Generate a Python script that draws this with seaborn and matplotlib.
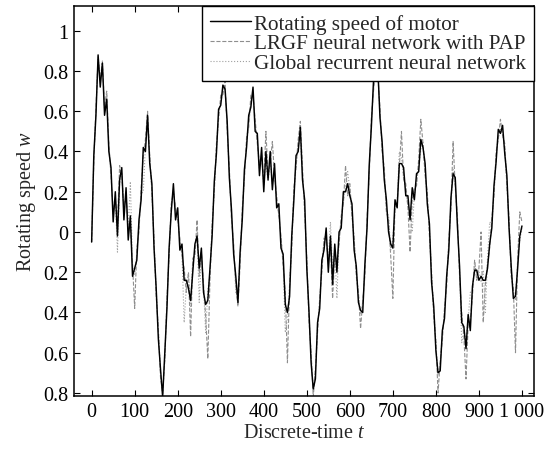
import numpy as np
import pandas as pd
import matplotlib
matplotlib.use("Agg")
import matplotlib.pyplot as plt
import seaborn as sns

# all three series read every 5 steps of discrete time
t_vals = list(range(0, 1001, 5))

speed = [
    -0.05, 0.38, 0.58, 0.88, 0.72, 0.84, 0.58, 0.66, 0.40, 0.32, 0.05, 0.20, -0.02, 0.26, 0.32, 0.06, 0.22, -0.04, 0.08, -0.22,
    -0.18, -0.14, 0.06, 0.16, 0.42, 0.40, 0.58, 0.34, 0.24, -0.08, -0.28, -0.53, -0.68, -0.82, -0.60, -0.38, -0.08, 0.10, 0.24, 0.06,
    0.12, -0.09, -0.06, -0.24, -0.24, -0.28, -0.34, -0.20, -0.06, -0.02, -0.18, -0.08, -0.30, -0.36, -0.34, -0.18, -0.02, 0.25, 0.39, 0.61,
    0.63, 0.73, 0.71, 0.55, 0.27, 0.11, -0.11, -0.22, -0.35, -0.10, 0.06, 0.31, 0.42, 0.58, 0.62, 0.72, 0.50, 0.49, 0.28, 0.42,
    0.20, 0.40, 0.26, 0.40, 0.21, 0.34, 0.12, 0.14, -0.08, -0.11, -0.36, -0.40, -0.32, -0.02, 0.16, 0.38, 0.40, 0.52, 0.26, 0.16,
    -0.18, -0.39, -0.65, -0.78, -0.73, -0.45, -0.38, -0.14, -0.09, 0.02, -0.20, -0.02, -0.26, -0.06, -0.20, 0.00, 0.02, 0.20, 0.20, 0.24,
    0.18, 0.14, -0.09, -0.17, -0.35, -0.39, -0.40, -0.16, 0.02, 0.33, 0.52, 0.75, 0.78, 0.82, 0.57, 0.45, 0.26, 0.16, 0.00, -0.06,
    -0.08, 0.16, 0.12, 0.34, 0.34, 0.32, 0.18, 0.18, 0.06, 0.22, 0.16, 0.29, 0.30, 0.46, 0.42, 0.34, 0.14, 0.04, -0.25, -0.37,
    -0.59, -0.70, -0.69, -0.49, -0.43, -0.22, -0.09, 0.17, 0.29, 0.27, 0.03, -0.17, -0.45, -0.47, -0.58, -0.41, -0.49, -0.27, -0.19, -0.19,
    -0.24, -0.22, -0.24, -0.24, -0.18, -0.06, 0.02, 0.23, 0.35, 0.51, 0.49, 0.53, 0.39, 0.28, 0.02, -0.17, -0.33, -0.32, -0.18, -0.02,
    0.03,
]

lrgf = [
    -0.05, 0.34, 0.62, 0.86, 0.76, 0.84, 0.62, 0.70, 0.44, 0.28, 0.10, 0.16, 0.04, 0.33, 0.28, 0.12, 0.18, 0.02, 0.03, -0.16,
    -0.38, -0.08, 0.00, 0.22, 0.38, 0.46, 0.60, 0.38, 0.20, -0.04, -0.32, -0.48, -0.72, -0.80, -0.64, -0.33, -0.12, 0.14, 0.20, 0.12,
    0.06, -0.03, -0.12, -0.18, -0.30, -0.20, -0.52, -0.13, -0.12, 0.06, -0.22, -0.10, -0.26, -0.42, -0.63, -0.24, 0.04, 0.20, 0.44, 0.56,
    0.68, 0.68, 0.75, 0.50, 0.32, 0.06, -0.06, -0.27, -0.37, -0.16, 0.12, 0.26, 0.47, 0.52, 0.68, 0.68, 0.56, 0.44, 0.34, 0.36,
    0.26, 0.50, 0.28, 0.34, 0.45, 0.28, 0.18, 0.08, -0.02, -0.17, -0.30, -0.65, -0.26, -0.08, 0.22, 0.32, 0.46, 0.55, 0.32, 0.10,
    -0.13, -0.44, -0.60, -0.82, -0.68, -0.50, -0.33, -0.20, -0.03, -0.04, -0.14, -0.08, -0.33, -0.12, -0.14, -0.06, 0.08, 0.14, 0.33, 0.18,
    0.24, 0.08, -0.03, -0.22, -0.30, -0.48, -0.34, -0.22, 0.07, 0.28, 0.57, 0.70, 0.80, 0.78, 0.62, 0.40, 0.32, 0.10, 0.06, -0.12,
    -0.33, 0.14, 0.14, 0.32, 0.50, 0.26, 0.24, 0.12, -0.10, 0.16, 0.22, 0.23, 0.36, 0.56, 0.44, 0.28, 0.20, -0.02, -0.20, -0.42,
    -0.54, -0.80, -0.64, -0.54, -0.38, -0.27, -0.04, 0.12, 0.45, 0.22, 0.08, -0.22, -0.40, -0.52, -0.73, -0.46, -0.44, -0.32, -0.14, -0.24,
    -0.18, 0.00, -0.45, -0.26, -0.16, -0.08, 0.07, 0.18, 0.40, 0.46, 0.56, 0.48, 0.44, 0.23, 0.07, -0.22, -0.28, -0.60, -0.13, 0.10,
    0.05,
]

grnn = [
    -0.04, 0.36, 0.60, 0.87, 0.75, 0.85, 0.61, 0.69, 0.43, 0.29, 0.09, 0.17, -0.10, 0.24, 0.29, 0.11, 0.19, 0.01, 0.25, -0.17,
    -0.21, -0.11, 0.03, 0.19, 0.20, 0.43, 0.55, 0.37, 0.21, -0.06, -0.29, -0.49, -0.69, -0.81, -0.63, -0.34, -0.11, 0.13, 0.21, 0.11,
    0.07, -0.04, -0.11, -0.45, -0.27, -0.21, -0.37, -0.14, -0.11, 0.01, -0.35, -0.11, -0.27, -0.50, -0.29, -0.21, 0.03, 0.21, 0.41, 0.57,
    0.65, 0.69, 0.73, 0.51, 0.29, 0.07, -0.07, -0.30, -0.31, -0.13, 0.09, 0.27, 0.44, 0.53, 0.65, 0.69, 0.53, 0.45, 0.31, 0.37,
    0.23, 0.35, 0.25, 0.35, 0.24, 0.29, 0.15, 0.09, -0.03, -0.14, -0.50, -0.43, -0.27, -0.05, 0.19, 0.33, 0.43, 0.47, 0.29, 0.11,
    -0.14, -0.41, -0.61, -0.79, -0.69, -0.47, -0.34, -0.17, -0.04, -0.01, -0.15, 0.05, -0.21, -0.09, -0.33, -0.03, 0.05, 0.15, 0.23, 0.30,
    0.21, 0.09, -0.04, -0.19, -0.31, -0.41, -0.35, -0.19, 0.04, 0.29, 0.54, 0.71, 0.79, 0.79, 0.59, 0.41, 0.29, 0.11, 0.08, -0.09,
    -0.03, 0.11, 0.15, 0.40, 0.37, 0.27, 0.21, 0.13, 0.11, 0.00, 0.19, 0.24, 0.33, 0.41, 0.45, 0.29, 0.17, 0.01, -0.21, -0.39,
    -0.55, -0.71, -0.65, -0.51, -0.39, -0.24, -0.05, 0.13, 0.31, 0.23, 0.05, -0.19, -0.55, -0.49, -0.54, -0.43, -0.30, -0.29, -0.15, -0.21,
    -0.19, -0.25, -0.19, -0.40, -0.13, 0.05, 0.04, 0.19, 0.37, 0.47, 0.51, 0.49, 0.41, 0.24, 0.04, -0.19, -0.29, -0.34, -0.14, -0.04,
    0.02,
]

legend_labels = ["Rotating speed of motor",
                 "LRGF neural network with PAP",
                 "Global recurrent neural network"]
x_ticks = list(range(0, 1001, 100))
x_ticklabels = ["0", "100", "200", "300", "400", "500", "600", "700", "800", "900", "1 000"]
y_ticks = [-0.8, -0.6, -0.4, -0.2, 0, 0.2, 0.4, 0.6, 0.8, 1]
y_ticklabels = ["0.8", "0.6", "0.4", "0.2", "0", "0.2", "0.4", "0.6", "0.8", "1"]

sns.set_style("ticks")
plt.rcParams["font.family"] = ["Liberation Serif", "DejaVu Serif"]
plt.rcParams["mathtext.fontset"] = "custom"
plt.rcParams["mathtext.it"] = "Liberation Serif:italic"
plt.rcParams["mathtext.rm"] = "Liberation Serif"

fig = plt.figure(figsize=(5.58, 4.52), dpi=100)
ax = fig.add_axes([74 / 558, 1 - 397 / 452, 460 / 558, 390 / 452])

df = pd.DataFrame({"t": t_vals, "speed": speed, "lrgf": lrgf, "grnn": grnn})

sns.lineplot(data=df, x="t", y="speed", ax=ax, color="black", lw=1.05,
             label=legend_labels[0], zorder=3)
sns.lineplot(data=df, x="t", y="lrgf", ax=ax, color="#8e8e8e", lw=0.8,
             linestyle="--", label=legend_labels[1], zorder=2)
sns.lineplot(data=df, x="t", y="grnn", ax=ax, color="#a0a0a0", lw=0.8,
             linestyle=":", label=legend_labels[2], zorder=2)

ax.set_xlim(-41, 1028)
ax.set_ylim(-0.815, 1.123)
ax.set_xticks(x_ticks)
ax.set_xticklabels(x_ticklabels)
ax.set_yticks(y_ticks)
ax.set_yticklabels(y_ticklabels)
ax.tick_params(direction="in", top=True, right=True, length=4, width=0.8,
               labelsize=14.5, colors="black", pad=4)
for s in ax.spines.values():
    s.set_linewidth(1.1)
    s.set_color("black")

ax.set_xlabel("Discrete-time $t$", fontsize=14.5, labelpad=2)
ax.set_ylabel("Rotating speed $w$", fontsize=14.5, labelpad=4)

leg = ax.legend(loc="upper right", borderaxespad=0, fancybox=False,
                edgecolor="black", framealpha=1, fontsize=15.2,
                handlelength=1.95, handletextpad=0.15, labelspacing=0.0,
                borderpad=0.36)
leg.get_frame().set_linewidth(1.0)
leg.set_zorder(5)

fig.savefig("out.png", dpi=100)
